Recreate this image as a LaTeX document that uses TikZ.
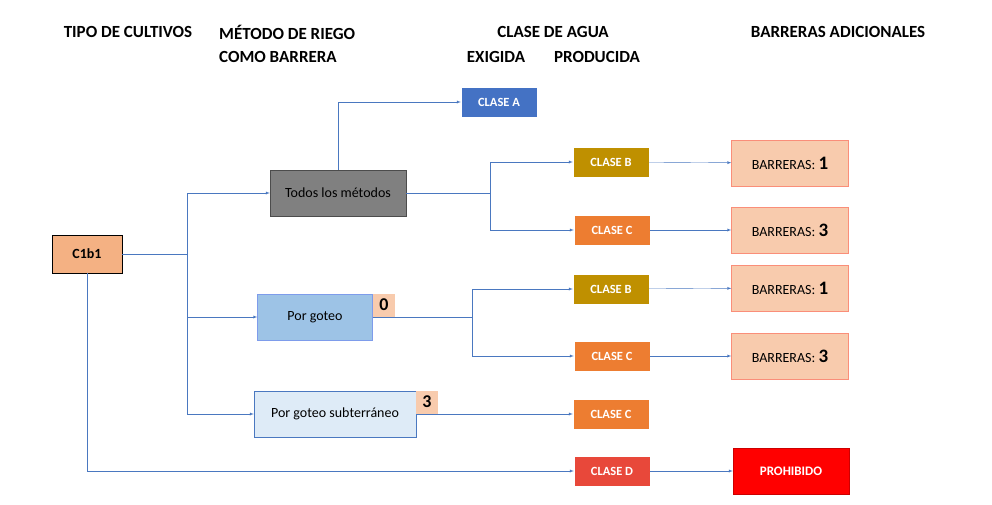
\documentclass[tikz,border=0pt]{standalone}
\usepackage{fontspec}
\setmainfont{Carlito}
\usepackage{tikz}
\usetikzlibrary{arrows,positioning}
\definecolor{linea}{HTML}{4A78C0}
\definecolor{naranja}{HTML}{F4B183}
\definecolor{rosa}{HTML}{F8CBAD}
\definecolor{claseA}{HTML}{4472C4}
\definecolor{claseB}{HTML}{BF9000}
\definecolor{claseC}{HTML}{ED7D31}
\definecolor{claseD}{HTML}{E8483A}
\definecolor{goteo}{HTML}{9DC3E6}
\definecolor{subte}{HTML}{DEEBF7}
\tikzset{
  head/.style={font=\bfseries\fontsize{17}{19}\selectfont, inner sep=0pt},
  clase/.style={draw=white, minimum width=76pt, minimum height=30pt, text=white, font=\bfseries\fontsize{12.5}{14}\selectfont},
  barr/.style={draw=rosa!70!red, fill=rosa, minimum width=117pt, minimum height=46pt, font=\fontsize{14}{16}\selectfont},
  metodo/.style={minimum height=46pt, font=\fontsize{14}{16}\selectfont},
  tag/.style={fill=rosa, minimum width=22pt, minimum height=23pt, inner sep=0pt, font=\bfseries\fontsize{18}{20}\selectfont},
  con/.style={draw=linea, -latex},
  lin/.style={draw=linea}
}
\begin{document}
\begin{tikzpicture}[x=1pt, y=-1pt]
  \useasboundingbox (0,0) rectangle (992,504);
  % cabeceras
  \node[head] (h1) at (128,32) {TIPO DE CULTIVOS};
  \node[head, anchor=west] (h2) at (219,32) {MÉTODO DE RIEGO};
  \node[head, anchor=west] (h3) at (219,57) {COMO BARRERA};
  \node[head] (h4) at (553,32) {CLASE DE AGUA};
  \node[head] (h5) at (496,57) {EXIGIDA};
  \node[head] (h6) at (597,57) {PRODUCIDA};
  \node[head] (h7) at (838,32) {BARRERAS ADICIONALES};

  % cultivo y metodos
  \node (c1) [draw, thick, fill=naranja, minimum width=70pt, minimum height=38pt, font=\bfseries\fontsize{14}{16}\selectfont] at (87,254) {C1b1};
  \node (todos) [metodo, draw=black!70, fill=black!50, minimum width=136pt] at (338,193) {Todos los métodos};
  \node (got) [metodo, draw=goteo!80!blue, fill=goteo, minimum width=115pt] at (315,317) {Por goteo};
  \node (t0) [tag] at (384,305) {0};
  \node (sub) [metodo, draw=linea, fill=subte, minimum width=162pt] at (335,414) {Por goteo subterráneo};
  \node (t3) [tag] at (427,402) {3};

  % clases
  \node (ca) [clase, fill=claseA] at (499,102) {CLASE A};
  \node (cb1) [clase, fill=claseB] at (611,162) {CLASE B};
  \node (cc1) [clase, fill=claseC] at (612,230) {CLASE C};
  \node (cb2) [clase, fill=claseB] at (611,289) {CLASE B};
  \node (cc2) [clase, fill=claseC] at (612,356) {CLASE C};
  \node (cc3) [clase, fill=claseC] at (611,414) {CLASE C};
  \node (cd) [clase, fill=claseD] at (612,471) {CLASE D};

  % barreras
  \node (b1) [barr] at (790,163) {BARRERAS: {\bfseries\fontsize{19}{21}\selectfont 1}};
  \node (b2) [barr] at (790,230) {BARRERAS: {\bfseries\fontsize{19}{21}\selectfont 3}};
  \node (b3) [barr] at (790,288) {BARRERAS: {\bfseries\fontsize{19}{21}\selectfont 1}};
  \node (b4) [barr] at (790,356) {BARRERAS: {\bfseries\fontsize{19}{21}\selectfont 3}};
  \node (proh) [draw=red!80!black, fill=red, minimum width=116pt, minimum height=46pt, text=white, font=\bfseries\fontsize{13}{15}\selectfont] at (791,471) {PROHIBIDO};

  \coordinate (k1) at (187,254);
  \coordinate (k2) at (490,193);
  \coordinate (k3) at (472,317);

  \draw[lin] (c1) -- (k1);
  \draw[con] (k1) |- (todos);
  \draw[con] (k1) |- (got);
  \draw[con] (k1) |- (sub);
  \draw[con] (c1) |- (cd);

  \draw[con] (todos) |- (ca);
  \draw[lin] (todos) -- (k2);
  \draw[con] (k2) |- (cb1);
  \draw[con] (k2) |- (cc1);
  \draw[lin] (got) -- (k3);
  \draw[con] (k3) |- (cb2);
  \draw[con] (k3) |- (cc2);
  \draw[con] (sub) -- (cc3);

  \draw[con] (cb1) -- (b1);
  \draw[con] (cc1) -- (b2);
  \draw[con] (cb2) -- (b3);
  \draw[con] (cc2) -- (b4);
  \draw[con] (cd) -- (proh);
\end{tikzpicture}
\end{document}
